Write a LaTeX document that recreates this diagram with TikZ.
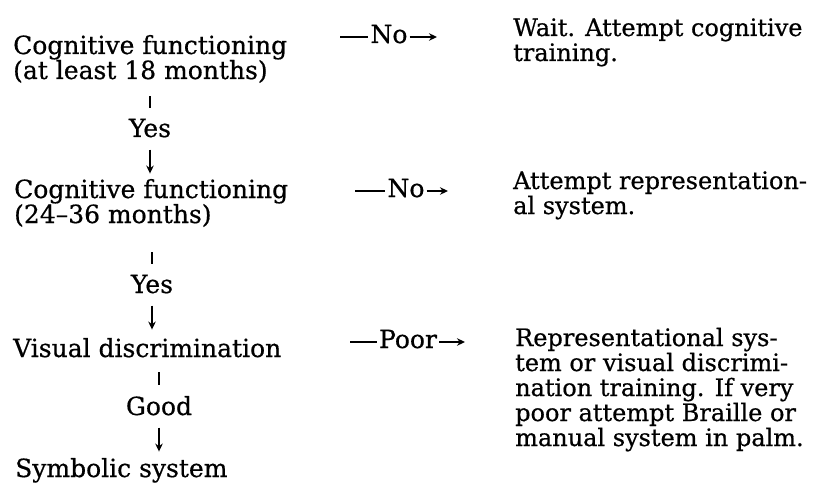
\documentclass[tikz,border=0pt]{standalone}
\usepackage{fontspec}
\setmainfont{DejaVu Serif}[FakeBold=0.6]
\usetikzlibrary{arrows.meta}
\begin{document}
\begin{tikzpicture}[x=1pt,y=-1pt,
  txt/.style={font=\fontsize{25}{25}\selectfont, inner sep=0pt, align=left, anchor=base west},
  rtxt/.style={font=\fontsize{24}{25}\selectfont, inner sep=0pt, align=left, anchor=base west},
  lbl/.style={font=\fontsize{25}{25}\selectfont, inner sep=0pt, anchor=base},
  conn/.style={line width=1.8pt},
  arr/.style={conn,-{Stealth[length=8pt,width=7.5pt]}}]
\useasboundingbox (0,0) rectangle (834,489);
% left column
\node[txt] (n1) at (13,79) {Cognitive functioning\\(at least 18 months)};
\node[txt] (n2) at (14,223) {Cognitive functioning\\(24--36 months)};
\node[txt] (n3) at (13,357) {Visual discrimination};
\node[txt] (n4) at (15,477) {Symbolic system};
\node[lbl] (y1) at (150,137) {Yes};
\node[lbl] (y2) at (152,293) {Yes};
\node[lbl] (g1) at (159,415) {Good};
% right column
\node[rtxt] (r1) at (513,61) {Wait. Attempt cognitive\\training.};
\node[rtxt] (r2) at (513,214) {Attempt representation-\\al system.};
\node[rtxt] (r3) at (515,446) {Representational sys-\\tem or visual discrimi-\\nation training. If very\\poor attempt Braille or\\manual system in palm.};
% horizontal labels
\node[lbl] (no1) at (389,43) {No};
\node[lbl] (no2) at (406,197) {No};
\node[lbl] (p1) at (408,348) {Poor};
\coordinate (d1) at (340,37);
\coordinate (e1) at (437,37);
\coordinate (d2) at (355,191);
\coordinate (e2) at (448,191);
\coordinate (d3) at (350,342);
\coordinate (e3) at (465,342);
% vertical connectors: tick above each label, arrow below it
\draw[conn] (y1.north) ++(0,-11) -- ++(0,-12);
\draw[arr] (y1.south) ++(0,12) -- ++(0,24);
\draw[conn] (y2.north) ++(0,-11) -- ++(0,-12);
\draw[arr] (y2.south) ++(0,12) -- ++(0,24);
\draw[conn] (g1.north) ++(0,-11) -- ++(0,-13);
\draw[arr] (g1.south) ++(0,12) -- ++(0,24);
% horizontal connectors
\draw[conn, shorten >=2pt] (d1) -- (d1 -| no1.west);
\draw[arr, shorten <=2pt] (d1 -| no1.east) -- (e1);
\draw[conn, shorten >=2pt] (d2) -- (d2 -| no2.west);
\draw[arr, shorten <=2pt] (d2 -| no2.east) -- (e2);
\draw[conn, shorten >=2pt] (d3) -- (d3 -| p1.west);
\draw[arr, shorten <=2pt] (d3 -| p1.east) -- (e3);
\end{tikzpicture}
\end{document}
